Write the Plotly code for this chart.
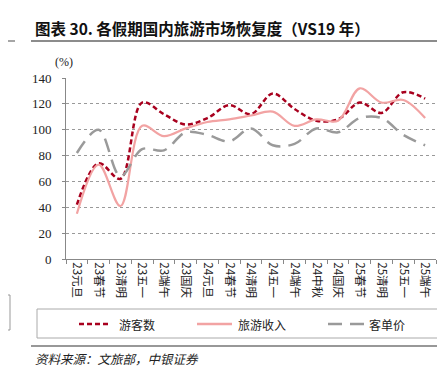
import plotly.graph_objects as go

categories = ["23元旦", "23春节", "23清明", "23五一", "23端午", "23国庆", "24元旦", "24春节", "24清明",
              "24五一", "24端午", "24中秋", "24国庆", "25春节", "25清明", "25五一", "25端午"]
visitors = [42, 74, 62, 121, 112, 104, 109, 119, 112, 128, 116, 107, 108, 121, 113, 129, 124]
revenue = [35, 73, 41, 103, 95, 101, 106, 108, 111, 114, 103, 108, 107, 132, 121, 123, 109]
per_capita = [82, 100, 64, 85, 84, 98, 96, 91, 101, 88, 89, 101, 98, 109, 109, 96, 88]
y_ticks = [0, 20, 40, 60, 80, 100, 120, 140]

W, H = 445, 369
L, R, T, B = 58, 17, 70, 118
PW, PH = W - L - R, H - T - B

def xp(px):
    return (px - L) / PW

def yp(py):
    return (H - B - py) / PH

CJK = "Noto Sans CJK SC"
SERIF = "Liberation Serif"

fig = go.Figure()
fig.add_trace(go.Scatter(x=categories, y=visitors, mode="lines", name="游客数",
                         line=dict(color="#A8001E", width=2.5, dash="5px,3px", shape="spline", smoothing=1)))
fig.add_trace(go.Scatter(x=categories, y=revenue, mode="lines", name="旅游收入",
                         line=dict(color="#F2A3A3", width=2.2, shape="spline", smoothing=1)))
fig.add_trace(go.Scatter(x=categories, y=per_capita, mode="lines", name="客单价",
                         line=dict(color="#9A9A9A", width=2.5, dash="14px,8px", shape="spline", smoothing=1)))

shapes = []
shapes.append(dict(type="line", xref="paper", yref="paper", x0=xp(23), x1=xp(436), y0=yp(33), y1=yp(33),
                   line=dict(color="#666666", width=1.5)))
shapes.append(dict(type="line", xref="paper", yref="paper", x0=xp(0), x1=xp(7), y0=yp(33), y1=yp(33),
                   line=dict(color="#888888", width=1.5)))
shapes.append(dict(type="line", xref="paper", yref="paper", x0=xp(23), x1=xp(436), y0=yp(338), y1=yp(338),
                   line=dict(color="#333333", width=1.2)))
shapes.append(dict(type="rect", xref="paper", yref="paper", x0=xp(-5), x1=xp(2), y0=yp(287), y1=yp(322),
                   line=dict(color="#999999", width=1)))
shapes.append(dict(type="rect", xref="paper", yref="paper", x0=xp(29), x1=xp(434), y0=yp(301), y1=yp(330),
                   line=dict(color="#AAAAAA", width=1), fillcolor="white"))
leg_y = yp(316)
shapes.append(dict(type="line", xref="paper", yref="paper", x0=xp(71), x1=xp(103), y0=leg_y, y1=leg_y,
                   line=dict(color="#A8001E", width=2.5, dash="5px,3px")))
shapes.append(dict(type="line", xref="paper", yref="paper", x0=xp(189), x1=xp(224), y0=leg_y, y1=leg_y,
                   line=dict(color="#F2A3A3", width=2.5)))
shapes.append(dict(type="line", xref="paper", yref="paper", x0=xp(320), x1=xp(356), y0=leg_y, y1=leg_y,
                   line=dict(color="#9A9A9A", width=2.5, dash="14px,8px")))

annotations = [
    dict(text="<b>图表 30. 各假期国内旅游市场恢复度（VS19 年）</b>", xref="paper", yref="paper",
         x=xp(25), y=yp(20), xanchor="left", yanchor="middle", showarrow=False,
         font=dict(family=CJK, size=15.5, color="#111111")),
    dict(text="(%)", xref="paper", yref="paper", x=xp(56), y=yp(54), xanchor="center", yanchor="middle",
         showarrow=False, font=dict(family=SERIF, size=12, color="#222222")),
    dict(text="游客数", xref="paper", yref="paper", x=xp(109), y=leg_y, xanchor="left", yanchor="middle",
         showarrow=False, font=dict(family=CJK, size=12, color="#222222")),
    dict(text="旅游收入", xref="paper", yref="paper", x=xp(228), y=leg_y, xanchor="left", yanchor="middle",
         showarrow=False, font=dict(family=CJK, size=12, color="#222222")),
    dict(text="客单价", xref="paper", yref="paper", x=xp(359), y=leg_y, xanchor="left", yanchor="middle",
         showarrow=False, font=dict(family=CJK, size=12, color="#222222")),
    dict(text="<i>资料来源：文旅部，中银证券</i>", xref="paper", yref="paper", x=xp(25), y=yp(350),
         xanchor="left", yanchor="middle", showarrow=False,
         font=dict(family=CJK, size=12.5, color="#222222")),
]

fig.update_layout(
    width=W, height=H,
    margin=dict(l=L, r=R, t=T, b=B, pad=0),
    paper_bgcolor="white", plot_bgcolor="white",
    showlegend=False,
    shapes=shapes,
    annotations=annotations,
    xaxis=dict(type="category", range=[-0.5, 16.5], tickson="boundaries", ticks="outside", ticklen=4,
               tickcolor="#888888", showline=True, linecolor="#888888", linewidth=1, showgrid=False,
               tickangle=90, tickfont=dict(family=CJK, size=11.5, color="#222222"), zeroline=False),
    yaxis=dict(range=[0, 140], tickvals=y_ticks, showline=True, linecolor="#888888", linewidth=1,
               showgrid=True, gridcolor="#999999", griddash="dot", gridwidth=1, zeroline=False,
               ticks="outside", ticklen=3, tickcolor="#888888", ticklabelstandoff=8,
               tickfont=dict(family=SERIF, size=13, color="#222222")),
)

fig.write_html("out.html")
